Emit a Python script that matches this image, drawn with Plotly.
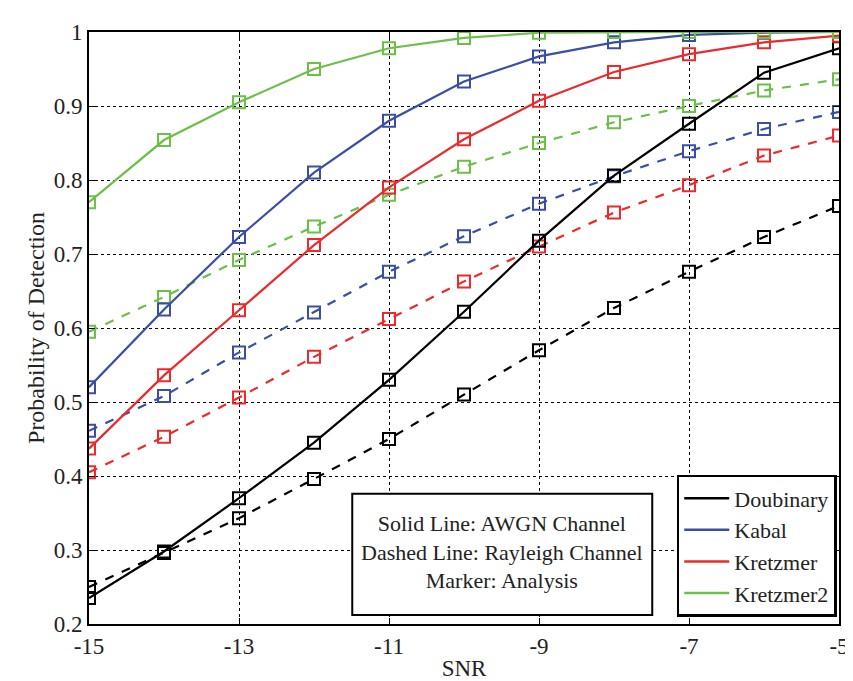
import plotly.graph_objects as go

snr = [-15, -14, -13, -12, -11, -10, -9, -8, -7, -6, -5]

names = ["Doubinary", "Kabal", "Kretzmer", "Kretzmer2"]
colors = ["#000000", "#3a4ea6", "#ec2a2c", "#6cbf47"]

awgn = {
    "Doubinary": [0.235, 0.298, 0.370, 0.445, 0.530, 0.622, 0.718, 0.806, 0.876, 0.945, 0.978],
    "Kabal":     [0.520, 0.625, 0.723, 0.810, 0.880, 0.933, 0.967, 0.986, 0.996, 0.999, 1.000],
    "Kretzmer":  [0.437, 0.536, 0.624, 0.712, 0.790, 0.855, 0.907, 0.946, 0.970, 0.986, 0.995],
    "Kretzmer2": [0.770, 0.854, 0.905, 0.950, 0.978, 0.992, 0.999, 1.000, 1.000, 1.000, 1.000],
}
rayleigh = {
    "Doubinary": [0.250, 0.296, 0.343, 0.396, 0.450, 0.510, 0.570, 0.627, 0.676, 0.723, 0.765],
    "Kabal":     [0.461, 0.508, 0.567, 0.621, 0.676, 0.724, 0.768, 0.805, 0.839, 0.869, 0.892],
    "Kretzmer":  [0.405, 0.453, 0.506, 0.561, 0.612, 0.663, 0.710, 0.756, 0.793, 0.833, 0.860],
    "Kretzmer2": [0.595, 0.642, 0.692, 0.737, 0.780, 0.818, 0.850, 0.878, 0.900, 0.921, 0.936],
}

x_ticks = [-15, -13, -11, -9, -7, -5]
y_ticks = [0.2, 0.3, 0.4, 0.5, 0.6, 0.7, 0.8, 0.9, 1.0]
y_tick_text = ["0.2", "0.3", "0.4", "0.5", "0.6", "0.7", "0.8", "0.9", "1"]

fig = go.Figure()
marker = dict(symbol="square-open", size=12, line=dict(width=2))

for name, col in zip(names, colors):
    fig.add_trace(go.Scatter(x=snr, y=rayleigh[name], mode="lines+markers",
                             line=dict(color=col, width=2.2, dash="dash"),
                             marker=dict(marker, color=col), showlegend=False))
for name, col in zip(names, colors):
    fig.add_trace(go.Scatter(x=snr, y=awgn[name], mode="lines+markers",
                             line=dict(color=col, width=2.2),
                             marker=dict(marker, color=col), showlegend=False))
for name, col in zip(names, colors):
    fig.add_trace(go.Scatter(x=[None], y=[None], mode="lines", name=name,
                             line=dict(color=col, width=2.5), showlegend=True))

font_family = "'Liberation Serif', 'Times New Roman', 'DejaVu Serif', serif"

fig.add_shape(type="rect", xref="paper", yref="paper",
              x0=0.351, x1=0.751, y0=0.015, y1=0.22,
              line=dict(color="black", width=2), fillcolor="white", layer="above")
fig.add_annotation(xref="paper", yref="paper", x=0.551, y=0.122,
                   xanchor="center", yanchor="middle",
                   text="Solid Line: AWGN Channel<br>Dashed Line: Rayleigh Channel<br>Marker: Analysis",
                   showarrow=False, align="center",
                   font=dict(family=font_family, size=22, color="#222"))

fig.update_layout(
    width=853, height=681,
    margin=dict(l=81, r=12, t=19, b=62),
    plot_bgcolor="white", paper_bgcolor="white",
    font=dict(family=font_family, size=22, color="#222"),
    legend=dict(x=0.997, y=0.012, xanchor="right", yanchor="bottom",
                bordercolor="black", borderwidth=2.5, bgcolor="white",
                font=dict(family=font_family, size=22, color="#222"),
                tracegroupgap=0, itemwidth=45),
    showlegend=True,
)
fig.update_xaxes(range=[-15, -5], tickvals=x_ticks, ticktext=[str(v) for v in x_ticks],
                 showgrid=True, gridcolor="black", griddash="dot", gridwidth=1,
                 showline=True, linecolor="black", linewidth=2, mirror="allticks",
                 ticks="inside", ticklen=6, tickcolor="black", zeroline=False,
                 title=dict(text="SNR", standoff=2, font=dict(size=23)),
                 tickfont=dict(size=23))
fig.update_yaxes(range=[0.2, 1.0], tickvals=y_ticks, ticktext=y_tick_text,
                 showgrid=True, gridcolor="black", griddash="dot", gridwidth=1,
                 showline=True, linecolor="black", linewidth=2, mirror="allticks",
                 ticks="inside", ticklen=6, tickcolor="black", zeroline=False,
                 title=dict(text="Probability of Detection", standoff=2, font=dict(size=24)),
                 tickfont=dict(size=23))

fig.write_html("out.html")
